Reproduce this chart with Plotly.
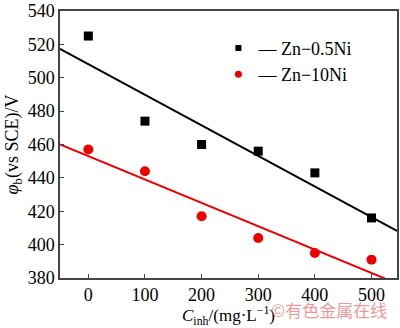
import numpy as np
import plotly.graph_objects as go

conc = [0, 100, 200, 300, 400, 500]
zn05 = [525, 474, 460, 456, 443, 416]
zn10 = [457, 444, 417, 404, 395, 391]
xticks = [0, 100, 200, 300, 400, 500]
yticks = [380, 400, 420, 440, 460, 480, 500, 520, 540]

xr = [-50, 545]
yr = [380, 540]

fig = go.Figure()

for ys, color, sym, size, name in [
    (zn05, "black", "square", 9, "— Zn−0.5Ni"),
    (zn10, "#ee0000", "circle", 10, "— Zn−10Ni"),
]:
    k, b = np.polyfit(conc, ys, 1)
    fx = np.array(xr, dtype=float)
    fig.add_trace(go.Scatter(x=fx, y=k * fx + b, mode="lines",
                             line=dict(color=color, width=2), showlegend=False))
    fig.add_trace(go.Scatter(x=conc, y=ys, mode="markers", showlegend=False,
                             marker=dict(color=color, symbol=sym, size=size)))
    fig.add_trace(go.Scatter(x=[None], y=[None], mode="markers", name=name,
                             marker=dict(color=color, symbol=sym, size=size - 3)))

fig.update_layout(
    width=400, height=328,
    margin=dict(l=60, r=1, t=7, b=50),
    paper_bgcolor="white", plot_bgcolor="white",
    font=dict(family="Liberation Serif", size=18, color="black"),
    showlegend=True,
    legend=dict(x=0.47, y=0.93, xanchor="left", yanchor="top",
                bgcolor="rgba(0,0,0,0)", font=dict(family="Liberation Serif", size=18),
                itemwidth=30, tracegroupgap=0),
    xaxis=dict(range=xr, tickvals=xticks, ticks="inside", ticklen=4,
               showgrid=False, zeroline=False, showline=True, mirror=True,
               linecolor="#444", linewidth=1.5, ticklabeloverflow="allow",
               title=dict(text="<i>C</i><sub>inh</sub>/(mg·L<sup>−1</sup>)", standoff=2,
                          font=dict(size=17))),
    yaxis=dict(range=yr, tickvals=yticks, ticks="inside", ticklen=4,
               showgrid=False, zeroline=False, showline=True, mirror=True,
               linecolor="#444", linewidth=1.5, ticklabeloverflow="allow",
               title=dict(text="<i>φ</i><sub>b</sub>(vs SCE)/V", standoff=4,
                          font=dict(size=18))),
)
fig.add_annotation(text="©有色金属在线", xref="paper", yref="paper", x=0.975, y=-0.172,
                   xanchor="right", yanchor="bottom", showarrow=False,
                   font=dict(family="Noto Sans CJK SC", size=17, color="rgba(235,90,90,0.65)"))
fig.write_html("out.html")
